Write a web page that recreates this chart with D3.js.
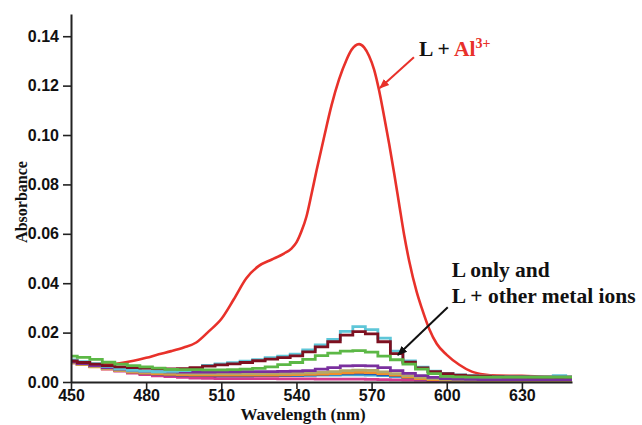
<!DOCTYPE html>
<html>
<head>
<meta charset="utf-8">
<script src="https://cdn.jsdelivr.net/npm/d3@7"></script>
<style>
  html, body { margin: 0; padding: 0; background: #fff; }
  svg { display: block; }
</style>
</head>
<body>
<svg id="chart" width="642" height="425"></svg>
<script>
// Absorption spectra: ligand L with Al3+ versus L alone / with other metal ions

// Common wavelength grid (nm) for the weak spectra
const wavelengths = d3.range(450, 651, 5);

// L + Al3+ spectrum (finer sampling around the band)
const alWavelengths = [450,455,460,465,470,475,480,485,490,495,500,505,510,515,520,525,530,535,538,540,542,544,546,548,551,554,557,560,562,563.5,565,567,569,571,573,575,577,579,581,583,585,588,590,593,596,600,605,610,615,620,630,640,650];
const alAbsorbance  = [.0080,.0075,.0072,.0072,.0077,.0086,.0098,.0112,.0125,.0140,.0160,.0205,.0255,.0335,.0420,.0470,.0495,.0520,.0540,.0565,.0610,.0670,.0760,.0855,.0990,.1120,.1225,.1305,.1345,.1362,.1368,.1355,.1320,.1265,.1180,.1075,.0965,.0845,.0720,.0595,.0490,.0365,.0300,.0215,.0155,.0110,.0070,.0042,.0030,.0026,.0025,.0021,.0020];

// L only and L + other metal ions (one array per sample, on the common grid)
const seriesTeal    = [.0082,.0073,.0063,.0054,.0046,.0040,.0036,.0033,.0030,.0029,.0028,.0027,.0026,.0026,.0026,.0026,.0026,.0026,.0026,.0027,.0028,.0028,.0029,.0029,.0028,.0026,.0022,.0018,.0014,.0012,.0011,.0011,.0011,.0011,.0011,.0011,.0011,.0011,.0011,.0011,.0011];
const seriesMagenta = [.0078,.0070,.0062,.0052,.0044,.0036,.0030,.0025,.0022,.0019,.0016,.0015,.0014,.0014,.0014,.0014,.0014,.0013,.0013,.0013,.0012,.0012,.0012,.0012,.0011,.0010,.0009,.0008,.0007,.0006,.0005,.0005,.0005,.0005,.0005,.0005,.0005,.0005,.0005,.0005,.0005];
const seriesBlue    = [.0080,.0071,.0062,.0054,.0047,.0041,.0036,.0032,.0029,.0027,.0026,.0026,.0025,.0025,.0025,.0026,.0026,.0027,.0028,.0029,.0031,.0033,.0035,.0036,.0035,.0031,.0026,.0019,.0013,.0009,.0007,.0006,.0006,.0006,.0006,.0006,.0006,.0006,.0006,.0006,.0006];
const seriesOrange  = [.0078,.0070,.0061,.0053,.0046,.0040,.0036,.0033,.0031,.0029,.0028,.0028,.0028,.0028,.0028,.0028,.0028,.0029,.0030,.0031,.0032,.0034,.0037,.0039,.0038,.0034,.0028,.0020,.0014,.0010,.0008,.0007,.0007,.0007,.0007,.0007,.0007,.0007,.0007,.0007,.0007];
const seriesOlive   = [.0080,.0072,.0063,.0055,.0048,.0043,.0040,.0038,.0036,.0035,.0034,.0034,.0034,.0034,.0034,.0034,.0035,.0035,.0036,.0037,.0039,.0042,.0046,.0048,.0047,.0041,.0034,.0026,.0019,.0014,.0011,.0009,.0008,.0008,.0008,.0008,.0008,.0008,.0008,.0008,.0008];
const seriesPurple  = [.0082,.0074,.0066,.0058,.0052,.0047,.0044,.0042,.0041,.0040,.0040,.0040,.0041,.0041,.0042,.0042,.0042,.0043,.0044,.0046,.0052,.0058,.0065,.0066,.0065,.0058,.0046,.0035,.0026,.0019,.0014,.0012,.0011,.0010,.0010,.0010,.0010,.0010,.0010,.0010,.0010];
const seriesCyan    = [.0089,.0082,.0074,.0063,.0053,.0047,.0044,.0042,.0043,.0046,.0053,.0067,.0073,.0078,.0084,.0091,.0099,.0105,.0113,.0130,.0150,.0172,.0205,.0224,.0212,.0178,.0125,.0085,.0060,.0044,.0035,.0029,.0026,.0024,.0023,.0022,.0022,.0021,.0021,.0026,.0021];
const seriesDarkRed = [.0085,.0079,.0072,.0066,.0061,.0058,.0056,.0054,.0053,.0054,.0058,.0064,.0069,.0073,.0079,.0086,.0093,.0099,.0106,.0122,.0142,.0163,.0190,.0204,.0195,.0163,.0115,.0080,.0057,.0042,.0034,.0028,.0025,.0023,.0022,.0021,.0021,.0020,.0020,.0020,.0020];
const seriesGreen   = [.0105,.0100,.0092,.0080,.0072,.0066,.0061,.0056,.0051,.0050,.0050,.0049,.0049,.0050,.0052,.0055,.0061,.0070,.0079,.0092,.0107,.0117,.0125,.0127,.0121,.0105,.0090,.0072,.0052,.0034,.0023,.0021,.0020,.0020,.0020,.0020,.0020,.0020,.0020,.0020,.0020];

const weakSeries = [
  { values: seriesTeal,    color: "#3fa9d6" },
  { values: seriesMagenta, color: "#d23a8f" },
  { values: seriesBlue,    color: "#2a3d9e" },
  { values: seriesOrange,  color: "#f0902a" },
  { values: seriesOlive,   color: "#b2a86a" },
  { values: seriesPurple,  color: "#7a2f9e" },
  { values: seriesCyan,    color: "#5ec6d8" },
  { values: seriesDarkRed, color: "#7d1020" },
  { values: seriesGreen,   color: "#5cb846" }
];

const yTicks = [0, 0.02, 0.04, 0.06, 0.08, 0.10, 0.12, 0.14];
const xTicks = [450, 480, 510, 540, 570, 600, 630];

const svg = d3.select("#chart");
const plotLeft = 71, plotRight = 572, plotTop = 14, plotBottom = 382;

const x = d3.scaleLinear().domain([450, 650]).range([plotLeft, plotRight]);
const y = d3.scaleLinear().domain([0, 0.149]).range([plotBottom, plotTop]);

const defs = svg.append("defs");
function arrowMarker(id, color) {
  defs.append("marker")
    .attr("id", id)
    .attr("viewBox", "0 0 10 10")
    .attr("refX", 9).attr("refY", 5)
    .attr("markerWidth", 10).attr("markerHeight", 10)
    .attr("markerUnits", "userSpaceOnUse")
    .attr("orient", "auto")
    .append("path").attr("d", "M0,1 L10,5 L0,9 Z").attr("fill", color);
}
arrowMarker("arrowRed", "#e8312a");
arrowMarker("arrowBlack", "#111");

// Spectra
const smooth = d3.line().x((d, i) => x(alWavelengths[i])).y(d => y(d)).curve(d3.curveMonotoneX);
const stepped = d3.line().x((d, i) => x(wavelengths[i])).y(d => y(d)).curve(d3.curveStep);

svg.append("path")
  .attr("d", smooth(alAbsorbance))
  .attr("fill", "none")
  .attr("stroke", "#e8312a")
  .attr("stroke-width", 2.6);

svg.selectAll("path.weak")
  .data(weakSeries)
  .join("path")
  .attr("class", "weak")
  .attr("d", d => stepped(d.values))
  .attr("fill", "none")
  .attr("stroke", d => d.color)
  .attr("stroke-width", 2.8)
  .attr("stroke-linejoin", "miter");

// Axes
const yAxis = d3.axisLeft(y).tickValues(yTicks).tickFormat(d3.format(".2f")).tickSize(8).tickSizeOuter(0).tickPadding(4);
const xAxis = d3.axisBottom(x).tickValues(xTicks).tickFormat(d3.format("d")).tickSize(7).tickSizeOuter(0).tickPadding(1);

const gy = svg.append("g").attr("transform", `translate(${plotLeft},0)`).call(yAxis);
const gx = svg.append("g").attr("transform", `translate(0,${plotBottom})`).call(xAxis);

[gx, gy].forEach(g => {
  g.select(".domain").attr("stroke", "#222").attr("stroke-width", 2);
  g.selectAll(".tick line").attr("stroke", "#222").attr("stroke-width", 1.6);
  g.selectAll(".tick text")
    .attr("fill", "#111")
    .style("font-family", "'Liberation Sans', Arial, sans-serif")
    .style("font-weight", "bold")
    .style("font-size", "16px");
});

// Axis titles
const serif = "'Liberation Serif', 'Times New Roman', serif";

svg.append("text")
  .attr("x", 303).attr("y", 420)
  .attr("text-anchor", "middle")
  .style("font-family", serif)
  .style("font-weight", "bold")
  .style("font-size", "17px")
  .attr("fill", "#111")
  .text("Wavelength (nm)");

svg.append("text")
  .attr("transform", "translate(27,202) rotate(-90)")
  .attr("text-anchor", "middle")
  .style("font-family", serif)
  .style("font-weight", "bold")
  .style("font-size", "16px")
  .attr("fill", "#111")
  .text("Absorbance");

// Annotations
svg.append("line")
  .attr("x1", x(586.9)).attr("y1", y(0.1315))
  .attr("x2", x(573.3)).attr("y2", y(0.119))
  .attr("stroke", "#e8312a").attr("stroke-width", 2)
  .attr("marker-end", "url(#arrowRed)");

const alLabel = svg.append("text")
  .attr("x", x(588.9)).attr("y", y(0.1319))
  .style("font-family", serif).style("font-weight", "bold").style("font-size", "21.5px")
  .attr("fill", "#111");
alLabel.append("tspan").text("L + ");
alLabel.append("tspan").attr("fill", "#e8312a").text("Al");
alLabel.append("tspan").attr("fill", "#e8312a").attr("dy", -8).style("font-size", "14px").text("3+");

svg.append("line")
  .attr("x1", x(600.4)).attr("y1", y(0.0303))
  .attr("x2", x(580.5)).attr("y2", y(0.0109))
  .attr("stroke", "#111").attr("stroke-width", 2)
  .attr("marker-end", "url(#arrowBlack)");

const otherLabel = svg.append("text")
  .style("font-family", serif).style("font-weight", "bold").style("font-size", "21.5px")
  .attr("fill", "#111");
otherLabel.append("tspan").attr("x", x(602)).attr("y", y(0.0425)).text("L only and");
otherLabel.append("tspan").attr("x", x(602)).attr("y", y(0.032)).text("L + other metal ions");
</script>
</body>
</html>
